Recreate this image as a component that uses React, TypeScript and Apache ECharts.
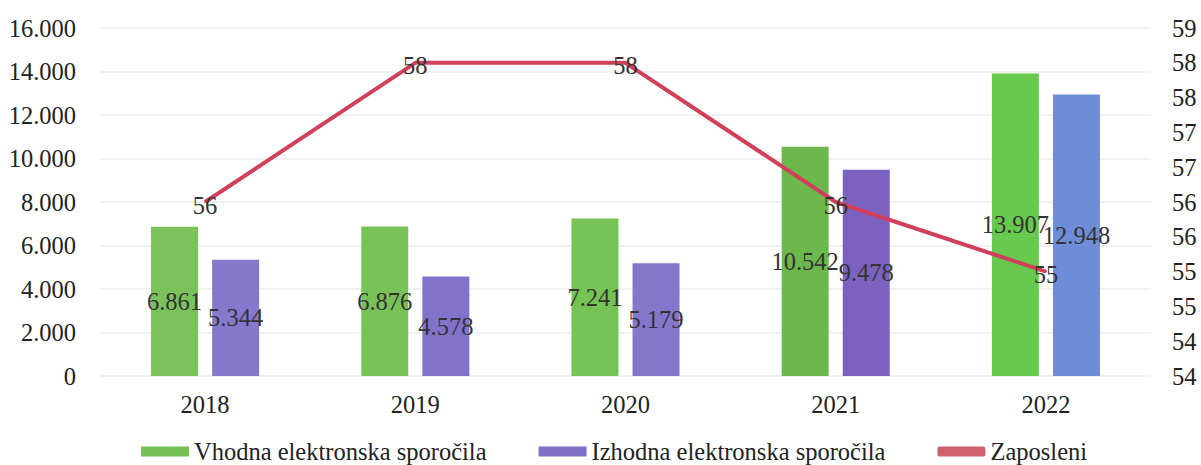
import React, { useEffect, useRef } from "react";
import * as echarts from "echarts";

const years = ["2018", "2019", "2020", "2021", "2022"];
const incoming = [6861, 6876, 7241, 10542, 13907];
const outgoing = [5344, 4578, 5179, 9478, 12948];
const employees = [56, 58, 58, 56, 55];

const leftTicks = { min: 0, max: 16000, interval: 2000 };
const rightTicks = { min: 53.5, max: 58.5, interval: 0.5 };

const greenShades = ["#7cc25a", "#78c257", "#74c354", "#6db84c", "#68c94f"];
const purpleShades = ["#8678cc", "#8272c9", "#8476cb", "#7b62c0", "#6e8dd8"];

const FONT = "Liberation Serif";
const FS = 24.5;

const fmt = (v: number) =>
  String(Math.round(v)).replace(/\B(?=(\d{3})+(?!\d))/g, ".");

export default function App() {
  const ref = useRef<HTMLDivElement>(null);
  useEffect(() => {
    if (!ref.current) return;
    const chart = echarts.init(ref.current, undefined, { renderer: "svg" });
    const labelStyle = {
      fontFamily: FONT,
      fontSize: FS,
      color: "#333",
    };
    chart.setOption({
      animation: false,
      backgroundColor: "#ffffff",
      textStyle: { fontFamily: FONT },
      grid: { left: 100, right: 50, top: 28, bottom: 89 },
      legend: {
        left: 136,
        top: 434,
        itemWidth: 48,
        itemHeight: 10,
        itemGap: 52,
        textStyle: { fontFamily: FONT, fontSize: FS, color: "#222" },
        data: [
          { name: "Vhodna elektronska sporočila", icon: "rect" },
          { name: "Izhodna elektronska sporočila", icon: "rect" },
          { name: "Zaposleni", icon: "roundRect", itemStyle: { color: "#d0606e" } },
        ],
      },
      xAxis: {
        type: "category",
        data: years,
        axisLine: { show: false },
        axisTick: { show: false },
        axisLabel: { fontFamily: FONT, fontSize: FS, color: "#222", margin: 16 },
      },
      yAxis: [
        {
          type: "value",
          ...leftTicks,
          axisLine: { show: false },
          axisTick: { show: false },
          splitLine: { lineStyle: { color: "#ececec", width: 1.5 } },
          axisLabel: {
            fontFamily: FONT,
            fontSize: FS,
            color: "#222",
            margin: 24,
            formatter: (v: number) => fmt(v),
          },
        },
        {
          type: "value",
          ...rightTicks,
          axisLine: { show: false },
          axisTick: { show: false },
          splitLine: { show: false },
          axisLabel: {
            fontFamily: FONT,
            fontSize: FS,
            color: "#222",
            margin: 21,
            padding: [0, 0, 10, 0],
            formatter: (v: number) => String(Math.round(v + 1e-9)),
          },
        },
      ],
      series: [
        {
          name: "Vhodna elektronska sporočila",
          type: "bar",
          barWidth: 47,
          barGap: "30%",
          itemStyle: { color: "#76c055" },
          data: incoming.map((v, i) => ({ value: v, itemStyle: { color: greenShades[i] } })),
          label: {
            show: true,
            position: "inside",
            ...labelStyle,
            formatter: (p: any) => fmt(p.value),
          },
        },
        {
          name: "Izhodna elektronska sporočila",
          type: "bar",
          barWidth: 47,
          itemStyle: { color: "#8070c8" },
          data: outgoing.map((v, i) => ({ value: v, itemStyle: { color: purpleShades[i] } })),
          label: {
            show: true,
            position: "inside",
            ...labelStyle,
            formatter: (p: any) => fmt(p.value),
          },
        },
        {
          name: "Zaposleni",
          type: "line",
          yAxisIndex: 1,
          data: employees,
          symbol: "circle",
          symbolSize: 2,
          showSymbol: true,
          lineStyle: { color: "#d0405a", width: 4 },
          itemStyle: { color: "#d0405a" },
          label: {
            show: true,
            position: "inside",
            offset: [0, 3],
            ...labelStyle,
          },
          z: 5,
        },
      ],
    });
    return () => chart.dispose();
  }, []);
  return (
    <div
      ref={ref}
      style={{ position: "absolute", left: 0, top: 0, width: 1201, height: 465 }}
    />
  );
}
